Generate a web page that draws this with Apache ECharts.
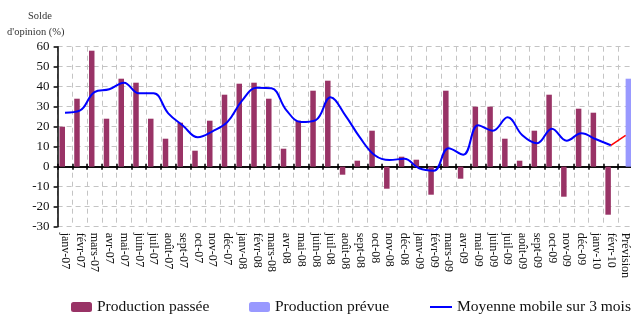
<!DOCTYPE html>
<html><head><meta charset="utf-8">
<script src="https://cdn.jsdelivr.net/npm/echarts@6/dist/echarts.min.js"></script>
<style>html,body{margin:0;padding:0;background:#fff}#c{width:631px;height:316px}</style>
</head><body><div id="c"></div>
<script>
const categories = [
  'janv-07','févr-07','mars-07','avr-07','mai-07','juin-07','juil-07','août-07','sept-07','oct-07','nov-07','déc-07',
  'janv-08','févr-08','mars-08','avr-08','mai-08','juin-08','juil-08','août-08','sept-08','oct-08','nov-08','déc-08',
  'janv-09','févr-09','mars-09','avr-09','mai-09','juin-09','juil-09','août-09','sept-09','oct-09','nov-09','déc-09',
  'janv-10','févr-10','Prévision'
];
const productionPassee = [
  20, 34, 58, 24, 44, 42, 24, 14, 22, 8, 23, 36,
  41.5, 42, 34, 9, 23, 38, 43, -4, 3, 18, -11, 5,
  3.5, -14, 38, -6, 30, 30, 14, 3, 18, 36, -15, 29,
  27, -24, null
];
const productionPrevue = [
  null, null, null, null, null, null, null, null, null, null, null, null,
  null, null, null, null, null, null, null, null, null, null, null, null,
  null, null, null, null, null, null, null, null, null, null, null, null,
  null, null, 44
];
const moyenneMobile = [
  27, 28, 37.3, 38.7, 42, 36.7, 36.7, 26.7, 20.5, 14.7, 17.7, 22.3,
  33, 39.5, 39.2, 28.3, 22.3, 23.3, 34.7, 25.7, 14.5, 5.7, 3.3, 4,
  -0.8, -2, 9.2, 6, 20.7, 18, 24.7, 15.7, 11.7, 19, 13, 16.7,
  13.7, 10.7, null
];
const moyenneMobilePrevision = [
  null, null, null, null, null, null, null, null, null, null, null, null,
  null, null, null, null, null, null, null, null, null, null, null, null,
  null, null, null, null, null, null, null, null, null, null, null, null,
  null, 10.7, 15.7
];
const yMin = -30, yMax = 60, yStep = 10;

const serif = '"Liberation Serif", "DejaVu Serif", serif';
const gridLine = { show: true, lineStyle: { color: '#c4c4c4', width: 1, type: [5, 4] } };
const legendText = { fontFamily: serif, fontSize: 15.5, color: '#111' };

const chart = echarts.init(document.getElementById('c'), null, { renderer: 'canvas' });
chart.setOption({
  animation: false,
  backgroundColor: '#ffffff',
  grid: { left: 57.6, right: -2, top: 46.7, bottom: 89.3, outerBoundsMode: 'none', containLabel: false },
  graphic: [
    { type: 'text', left: 28, top: 11, style: { text: 'Solde', font: '10.5px ' + serif, fill: '#333' } },
    { type: 'text', left: 7, top: 27, style: { text: "d'opinion (%)", font: '10.5px ' + serif, fill: '#333' } }
  ],
  legend: [
    { data: ['Production passée'], left: 71, top: 299, padding: 0, itemWidth: 21, itemHeight: 10, textStyle: legendText },
    { data: ['Production prévue'], left: 249, top: 299, padding: 0, itemWidth: 21, itemHeight: 10, textStyle: legendText },
    { data: [{ name: 'Moyenne mobile sur 3 mois', icon: 'rect' }], left: 430, top: 299, padding: 0,
      itemWidth: 22, itemHeight: 2, textStyle: legendText }
  ],
  xAxis: [
    {
      type: 'category', data: categories, position: 'bottom', boundaryGap: true,
      axisLine: { show: false, onZero: false },
      axisTick: { show: false },
      axisLabel: { interval: 0, rotate: -90, margin: 6, fontFamily: serif, fontSize: 12, color: '#111', hideOverlap: false },
      splitLine: Object.assign({ interval: 0 }, gridLine)
    },
    {
      type: 'category', data: categories, position: 'bottom', boundaryGap: true,
      axisLine: { show: true, onZero: true, onZeroAxisIndex: 0, lineStyle: { color: '#000', width: 1.5 } },
      axisTick: { show: true, interval: 0, length: 3, lineStyle: { color: '#000', width: 1.5 } },
      axisLabel: { show: false }, splitLine: { show: false }
    },
    {
      type: 'category', data: categories, position: 'top', boundaryGap: true,
      axisLine: { show: true, onZero: true, onZeroAxisIndex: 0, lineStyle: { color: '#000', width: 1.5 } },
      axisTick: { show: true, interval: 0, length: 3, lineStyle: { color: '#000', width: 1.5 } },
      axisLabel: { show: false }, splitLine: { show: false }
    }
  ],
  yAxis: {
    type: 'value', min: yMin, max: yMax, interval: yStep,
    axisLine: { show: true, lineStyle: { color: '#000', width: 1.5 } },
    axisTick: { show: true, length: 4, lineStyle: { color: '#000', width: 1.5 } },
    axisLabel: { margin: 8, fontFamily: serif, fontSize: 13, color: '#111' },
    splitLine: gridLine
  },
  series: [
    { name: 'Production passée', type: 'bar', xAxisIndex: 0, data: productionPassee,
      barWidth: 5.5, barGap: '0%', itemStyle: { color: '#993366' } },
    { name: 'Production prévue', type: 'bar', xAxisIndex: 0, data: productionPrevue,
      barWidth: 5.5, barGap: '0%', itemStyle: { color: '#9999FF' } },
    { name: 'Moyenne mobile sur 3 mois', type: 'line', xAxisIndex: 0, data: moyenneMobile,
      smooth: 0.4, symbol: 'none', z: 5, lineStyle: { color: '#0000FF', width: 2 }, itemStyle: { color: '#0000FF' } },
    { name: 'Prévision moyenne', type: 'line', xAxisIndex: 0, data: moyenneMobilePrevision,
      smooth: false, symbol: 'none', z: 5, lineStyle: { color: '#FF0000', width: 1.5 }, itemStyle: { color: '#FF0000' } }
  ]
});
</script>
</body></html>
